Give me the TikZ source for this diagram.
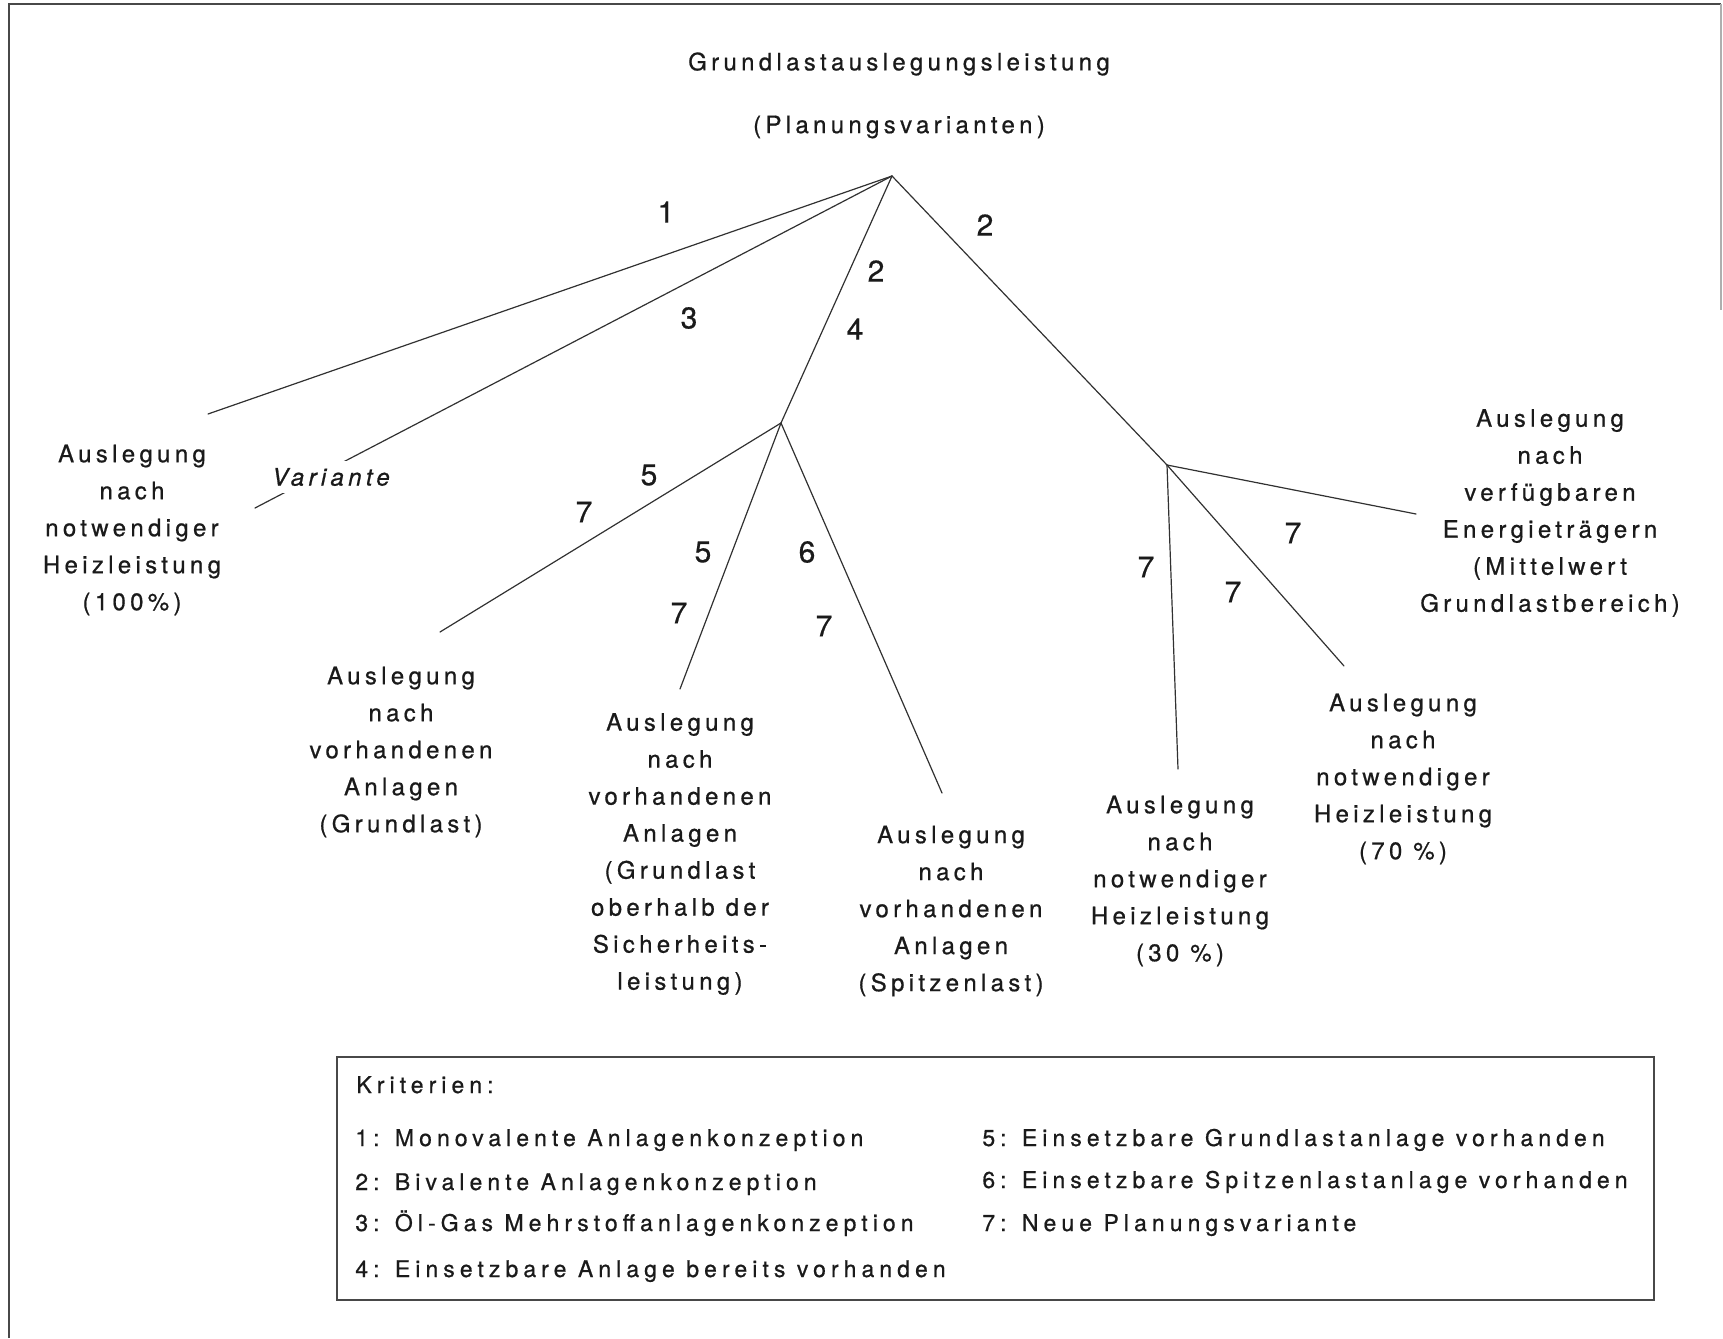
\documentclass[tikz,border=0pt]{standalone}
\usepackage{fontspec}
\setmainfont{TeX Gyre Heros}[LetterSpace=18, FakeBold=0.7]
\newfontfamily\numfont{TeX Gyre Heros}[FakeBold=0.5]
\newfontfamily\critfont{TeX Gyre Heros}[LetterSpace=22, FakeBold=0.7]
\definecolor{ink}{HTML}{1A1A1A}
\begin{document}
\begin{tikzpicture}[x=0.5pt,y=-0.5pt,
  every node/.style={inner sep=0pt, text=ink},
  leaf/.style={align=center, font=\fontsize{12}{18.5}\selectfont},
  num/.style={font=\numfont\fontsize{15}{15}\selectfont},
  branch/.style={draw=ink!90, line width=0.6pt, line cap=round},
  frame/.style={draw=ink!80, line width=0.8pt},
  crit/.style={anchor=base west, font=\critfont\fontsize{11.5}{13}\selectfont}
]
\useasboundingbox (0,0) rectangle (1723,1338);

% page frame
\draw[frame] (9,1338) -- (9,4) -- (1721,4);
\draw[frame, draw=ink!35] (1721,4) -- (1721,310);

% heading
\node[leaf] (title) at (899,64) {Grundlastauslegungsleistung};
\node[leaf] (sub) at (899,127) {(Planungsvarianten)};

% branching points
\coordinate (root) at (892,176);
\coordinate (j1) at (781,423);
\coordinate (j2) at (1167,465);

% leaves of the tree
\node[leaf] (n100) at (132,530) {Auslegung\\nach\\notwendiger\\Heizleistung\\(100\%)};
\node[leaf] (grund) at (401,752) {Auslegung\\nach\\vorhandenen\\Anlagen\\(Grundlast)};
\node[leaf] (sich) at (680,854) {Auslegung\\nach\\vorhandenen\\Anlagen\\(Grundlast\\oberhalb der\\Sicherheits-\\leistung)};
\node[leaf] (spitz) at (951,911) {Auslegung\\nach\\vorhandenen\\Anlagen\\(Spitzenlast)};
\node[leaf] (n30) at (1180,881) {Auslegung\\nach\\notwendiger\\Heizleistung\\(30 \%)};
\node[leaf] (n70) at (1403,779) {Auslegung\\nach\\notwendiger\\Heizleistung\\(70 \%)};
\node[leaf] (energ) at (1550,513) {Auslegung\\nach\\verfügbaren\\Energieträgern\\(Mittelwert\\Grundlastbereich)};

% free ends of the branches
\coordinate (e1) at (208,414);
\coordinate (e3) at (255,508);
\coordinate (eB) at (440,632);
\coordinate (eC) at (680,689);
\coordinate (eD) at (942,793);
\coordinate (eE) at (1178,769);
\coordinate (eF) at (1344,666);
\coordinate (eG) at (1416,514);

% branches
\draw[branch] (root) -- (e1);
\draw[branch] (root) -- (e3);
\draw[branch] (root) -- (j1);
\draw[branch] (root) -- (j2);
\draw[branch] (j1) -- (eB);
\draw[branch] (j1) -- (eC);
\draw[branch] (j1) -- (eD);
\draw[branch] (j2) -- (eE);
\draw[branch] (j2) -- (eF);
\draw[branch] (j2) -- (eG);

% label interrupting branch 3
\node[fill=white, inner ysep=3.5pt, font=\fontsize{12}{13}\selectfont\itshape] (var) at (331,477) {Variante};

% criteria numbers on the branches
\node[num] (c1) at (666,212) {1};
\node[num] (c3) at (689,318) {3};
\node[num] (c2a) at (876,271) {2};
\node[num] (c4) at (855,329) {4};
\node[num] (c2b) at (985,225) {2};
\node[num] (c5a) at (649,475) {5};
\node[num] (c7a) at (584,512) {7};
\node[num] (c5b) at (703,552) {5};
\node[num] (c7b) at (679,613) {7};
\node[num] (c6) at (807,552) {6};
\node[num] (c7c) at (824,626) {7};
\node[num] (c7d) at (1146,567) {7};
\node[num] (c7e) at (1233,592) {7};
\node[num] (c7f) at (1293,533) {7};

% legend
\draw[frame, line width=0.7pt] (337,1057) rectangle (1654,1300);
\node[crit] (krit) at (356,1093) {Kriterien:};
\node[crit] (k1) at (355,1146) {1: Monovalente Anlagenkonzeption};
\node[crit] (k2) at (355,1190) {2: Bivalente Anlagenkonzeption};
\node[crit] (k3) at (355,1231) {3: Öl-Gas Mehrstoffanlagenkonzeption};
\node[crit] (k4) at (355,1277) {4: Einsetzbare Anlage bereits vorhanden};
\node[crit] (k5) at (982,1146) {5: Einsetzbare Grundlastanlage vorhanden};
\node[crit] (k6) at (982,1188) {6: Einsetzbare Spitzenlastanlage vorhanden};
\node[crit] (k7) at (982,1231) {7: Neue Planungsvariante};
\end{tikzpicture}
\end{document}
